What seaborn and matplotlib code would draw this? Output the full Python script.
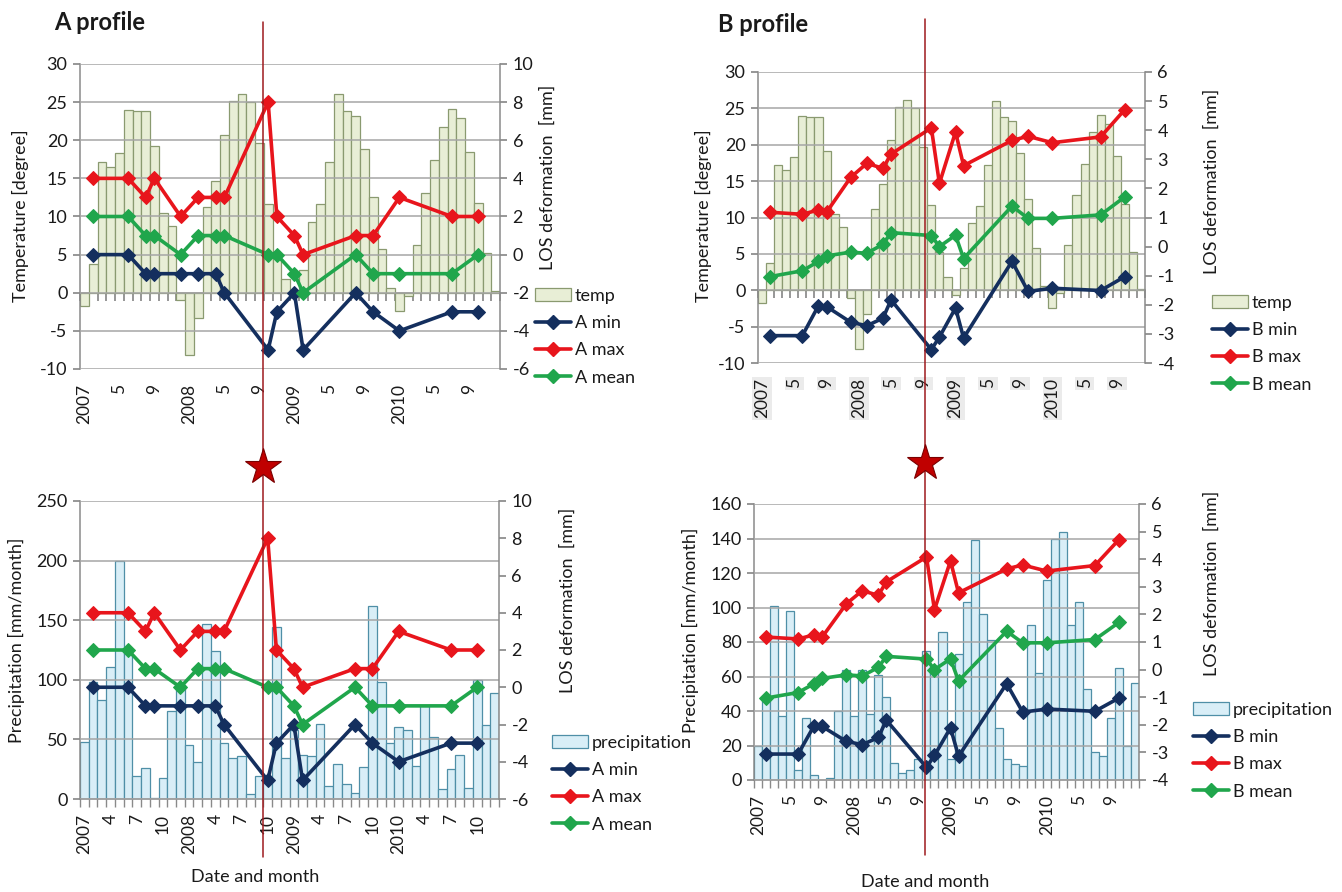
import numpy as np
import pandas as pd
import matplotlib
matplotlib.use("Agg")
import matplotlib.pyplot as plt
import seaborn as sns
from matplotlib.patches import Patch
from matplotlib.lines import Line2D

# ---------------- data ----------------
months = list(range(48))  # Jan 2007 .. Dec 2010

temp = [-1.7, 3.8, 17.2, 16.5, 18.3, 24.0, 23.8, 23.8, 19.2, 10.5, 8.7, -1.0,
        -8.1, -3.3, 11.2, 14.6, 20.7, 25.2, 26.1, 25.0, 19.7, 11.7, 5.2, 1.8,
        -0.6, 3.0, 9.3, 11.6, 17.2, 26.0, 23.8, 23.2, 18.9, 12.5, 5.8, 0.6,
        -2.4, -0.4, 6.2, 13.1, 17.4, 21.8, 24.1, 22.9, 18.5, 11.8, 5.2, 0.2]

precip_A = [48, 98, 83, 111, 200, 123, 19, 26, 1, 18, 74, 96,
            45, 31, 147, 124, 47, 34, 36, 4, 19, 15, 144, 34,
            58, 37, 36, 63, 11, 29, 13, 5, 27, 162, 98, 47,
            60, 58, 28, 78, 52, 8, 25, 37, 9, 100, 62, 89]

precip_B = [20, 48, 101, 37, 98, 6, 36, 3, 0, 1, 40, 64,
            37, 64, 38, 61, 48, 10, 4, 6, 12, 75, 65, 86,
            12, 73, 103, 139, 96, 81, 30, 12, 9, 8, 90, 62,
            116, 140, 144, 90, 103, 53, 16, 14, 36, 65, 20, 56]

obs_month = [1, 5, 7, 8, 11, 13, 15, 16, 21, 22, 24, 25, 31, 33, 36, 42, 45]

A_min = [0, 0, -1, -1, -1, -1, -1, -2, -5, -3, -2, -5, -2, -3, -4, -3, -3]
A_max = [4, 4, 3, 4, 2, 3, 3, 3, 8, 2, 1, 0, 1, 1, 3, 2, 2]
A_mean = [2, 2, 1, 1, 0, 1, 1, 1, 0, 0, -1, -2, 0, -1, -1, -1, 0]

B_min = [-3.06, -3.06, -2.03, -2.06, -2.6, -2.72, -2.46, -1.83, -3.54, -3.11,
         -2.11, -3.14, -0.51, -1.54, -1.43, -1.51, -1.03]
B_max = [1.18, 1.11, 1.26, 1.18, 2.38, 2.86, 2.69, 3.18, 4.08, 2.17,
         3.94, 2.78, 3.65, 3.79, 3.57, 3.77, 4.71]
B_mean = [-1.03, -0.83, -0.51, -0.32, -0.19, -0.23, 0.08, 0.48, 0.38, 0.0,
          0.39, -0.41, 1.39, 0.97, 0.97, 1.09, 1.71]

ticks_4 = [0, 4, 8, 12, 16, 20, 24, 28, 32, 36, 40, 44]
labels_4 = ["2007", "5", "9", "2008", "5", "9", "2009", "5", "9", "2010", "5", "9"]
ticks_3 = [0, 3, 6, 9, 12, 15, 18, 21, 24, 27, 30, 33, 36, 39, 42, 45]
labels_3 = ["2007", "4", "7", "10", "2008", "4", "7", "10",
            "2009", "4", "7", "10", "2010", "4", "7", "10"]

# ---------------- style ----------------
sns.set_theme(style="white")
plt.rcParams['font.family'] = ['Lato', 'DejaVu Sans']
plt.rcParams['axes.unicode_minus'] = False

W, H = 1342, 892
fig = plt.figure(figsize=(W / 100, H / 100), dpi=100)

C_MIN = '#142f5e'
C_MAX = '#e8151c'
C_MEAN = '#20a64c'
GRID = '#a5a5a5'
AXC = '#8a8a8a'
TXT = '#1a1a1a'
TEMP_FC, TEMP_EC = '#e8eed6', '#8a9a70'
PREC_FC, PREC_EC = '#d9eef7', '#4f8fa7'
FS = 13


def rect(x0, y0, x1, y1):
    return [x0 / W, 1 - y1 / H, (x1 - x0) / W, (y1 - y0) / H]


def panel(r, bars, fc, ec, ylim_l, yt_l, ylim_r, yt_r, series, xt, xl,
          zero_frac=None, label_bg=False):
    ax = fig.add_axes(r)
    df = pd.DataFrame({"month": months, "value": bars})
    sns.barplot(data=df, x="month", y="value", ax=ax, native_scale=True,
                width=1.0, color=fc, edgecolor=ec, linewidth=0.9,
                saturation=1, errorbar=None)
    ax.set_xlim(-0.5, 47.5)
    ax.set_ylim(*ylim_l)
    ax.set_yticks(yt_l)
    ax.set_xlabel("")
    ax.set_ylabel("")
    ax.set_axisbelow(False)
    ax.yaxis.grid(True, color=GRID, linewidth=1.1)
    ax.xaxis.grid(False)
    for s in ["top", "right"]:
        ax.spines[s].set_visible(False)
    ax.spines["left"].set_color(AXC)
    ax.spines["left"].set_linewidth(1.1)
    ax.tick_params(axis="y", which="major", direction="out", length=5,
                   color=AXC, labelsize=FS, labelcolor=TXT, pad=4, left=True)
    ax.set_xticks(xt)
    ax.set_xticklabels(xl, rotation=90)
    ax.tick_params(axis="x", which="major", length=0, labelsize=12.5,
                   labelcolor=TXT, pad=11)
    bounds = np.arange(-0.5, 48.0, 1.0)
    if zero_frac is None:
        ax.spines["bottom"].set_color(AXC)
        ax.spines["bottom"].set_linewidth(1.1)
        ax.set_xticks(bounds, minor=True)
        ax.tick_params(axis="x", which="minor", direction="out", length=6,
                       color=AXC, bottom=True)
    else:
        ax.spines["bottom"].set_visible(False)
        sec = ax.secondary_xaxis(zero_frac)
        sec.set_xticks(bounds)
        sec.tick_params(axis="x", direction="out", length=6, color=AXC,
                        labelbottom=False, labeltop=False)
        sec.spines["bottom"].set_color(AXC)
        sec.spines["bottom"].set_linewidth(1.1)
    if label_bg:
        for lbl in ax.get_xticklabels():
            lbl.set_bbox(dict(facecolor="#ebebeb", edgecolor="none", pad=1.2))

    ax2 = ax.twinx()
    for vals, col in series:
        sns.lineplot(x=obs_month, y=vals, ax=ax2, color=col, marker="D",
                     markersize=7, markeredgecolor=col, linewidth=2.6,
                     legend=False, errorbar=None)
    ax2.set_xlim(-0.5, 47.5)
    ax2.set_ylim(*ylim_r)
    ax2.set_yticks(yt_r)
    ax2.set_ylabel("")
    ax2.grid(False)
    for s in ["top", "left", "bottom"]:
        ax2.spines[s].set_visible(False)
    ax2.spines["right"].set_color(AXC)
    ax2.spines["right"].set_linewidth(1.1)
    ax2.tick_params(axis="y", direction="out", length=5, color=AXC,
                    labelsize=FS, labelcolor=TXT, pad=4, right=True)
    return ax, ax2


A_series = [(A_min, C_MIN), (A_max, C_MAX), (A_mean, C_MEAN)]
B_series = [(B_min, C_MIN), (B_max, C_MAX), (B_mean, C_MEAN)]

# top-left
panel(rect(80, 64, 500, 369), temp, TEMP_FC, TEMP_EC, (-10, 30), range(-10, 31, 5),
      (-6, 10), range(-6, 11, 2), A_series, ticks_4, labels_4, zero_frac=0.25)
# bottom-left
panel(rect(80, 501, 499, 799), precip_A, PREC_FC, PREC_EC, (0, 250), range(0, 251, 50),
      (-6, 10), range(-6, 11, 2), A_series, ticks_3, labels_3)
# top-right
panel(rect(758, 72, 1145, 363), temp, TEMP_FC, TEMP_EC, (-10, 30), range(-10, 31, 5),
      (-4, 6), range(-4, 7, 1), B_series, ticks_4, labels_4, zero_frac=0.25,
      label_bg=True)
# bottom-right
panel(rect(754, 504, 1139, 780), precip_B, PREC_FC, PREC_EC, (0, 160), range(0, 161, 20),
      (-4, 6), range(-4, 7, 1), B_series, ticks_4, labels_4)

# ---------------- texts ----------------
def ftext(x, y, s, **kw):
    fig.text(x / W, 1 - y / H, s, color=TXT, **kw)

ftext(54, 22, "A profile", fontsize=17, fontweight="bold", va="center", ha="left")
ftext(718, 25, "B profile", fontsize=17, fontweight="bold", va="center", ha="left")

lab = dict(fontsize=FS, rotation=90, ha="center", va="center")
ftext(20, 216, "Temperature [degree]", **lab)
ftext(548, 177, "LOS deformation  [mm]", **lab)
ftext(16, 640, "Precipitation [mm/month]", **lab)
ftext(568, 600, "LOS deformation  [mm]", **lab)
ftext(703, 216, "Temperature [degree]", **lab)
ftext(1212, 181, "LOS deformation  [mm]", **lab)
ftext(690, 630, "Precipitation [mm/month]", **lab)
ftext(1212, 583, "LOS deformation  [mm]", **lab)
ftext(255, 877, "Date and month", fontsize=FS, ha="center", va="center")
ftext(925, 882, "Date and month", fontsize=FS, ha="center", va="center")

# ---------------- event markers ----------------
for xpx, y0, y1, ys in [(263, 22, 857, 467), (925, 19, 855, 463)]:
    fig.add_artist(Line2D([xpx / W, xpx / W], [1 - y0 / H, 1 - y1 / H],
                          transform=fig.transFigure, color="#9e1a1e", lw=1.1, zorder=20))
    fig.add_artist(Line2D([xpx / W], [1 - ys / H], transform=fig.transFigure,
                          marker="*", markersize=27, color="#c00000",
                          markeredgecolor="#7a0000", markeredgewidth=0.8, lw=0, zorder=21))

# ---------------- legends ----------------
def line_h(c):
    return Line2D([], [], color=c, marker="D", markersize=7, markeredgecolor=c, lw=2.6)

def legend(x, y, bar_label, fc, ec, letter):
    handles = [Patch(facecolor=fc, edgecolor=ec, linewidth=0.9),
               line_h(C_MIN), line_h(C_MAX), line_h(C_MEAN)]
    labels = [bar_label, f"{letter} min", f"{letter} max", f"{letter} mean"]
    fig.legend(handles, labels, loc="upper left", bbox_to_anchor=(x / W, 1 - y / H),
               bbox_transform=fig.transFigure, frameon=False, fontsize=FS,
               handlelength=2.0, handletextpad=0.2, labelspacing=0.62,
               borderpad=0, borderaxespad=0, labelcolor=TXT)

legend(535, 288, "temp", TEMP_FC, TEMP_EC, "A")
legend(552, 735, "precipitation", PREC_FC, PREC_EC, "A")
legend(1212, 295, "temp", TEMP_FC, TEMP_EC, "B")
legend(1193, 702, "precipitation", PREC_FC, PREC_EC, "B")

fig.savefig("out.png", dpi=100)
